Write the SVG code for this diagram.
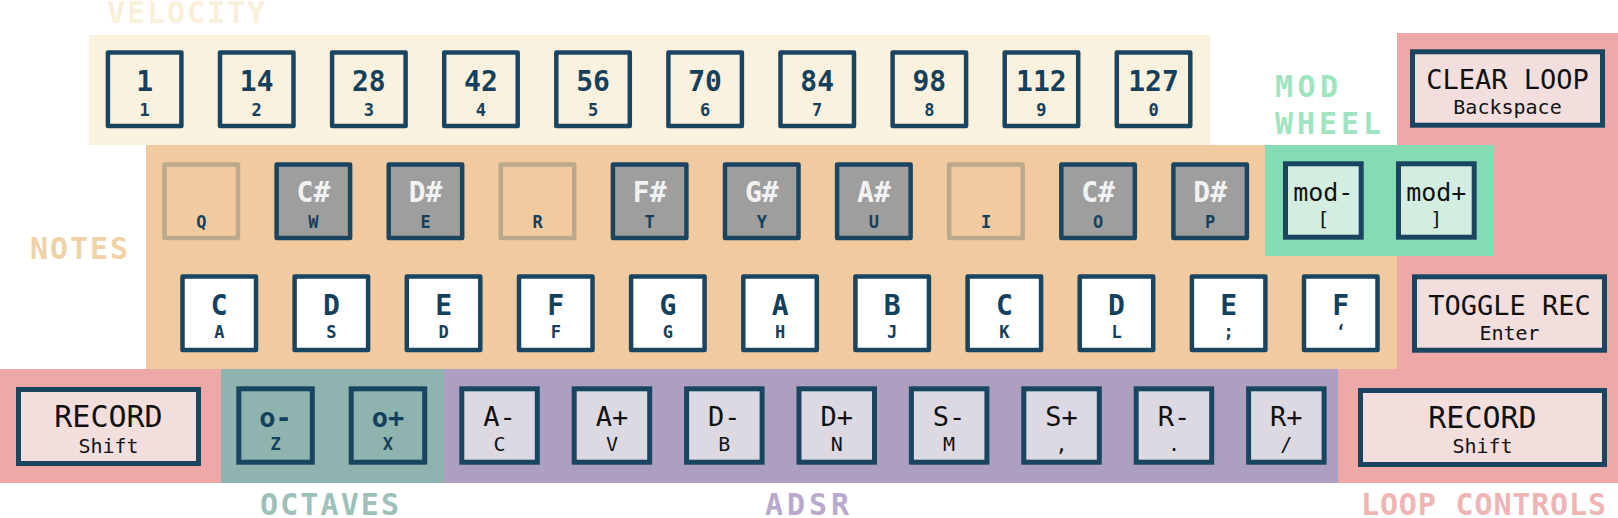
<svg xmlns="http://www.w3.org/2000/svg" width="1618" height="518" viewBox="0 0 1618 518">
<style>
.k{stroke:#1a4560;stroke-width:4.5;stroke-linejoin:round}
.k2{stroke:#1a4560;stroke-width:5}
.vel{fill:#fbf1df}
.sharp{fill:#9e9e9e}
.empty{fill:#f2caa0;stroke:#bba98c;stroke-width:4.5;stroke-linejoin:round}
.white{fill:#ffffff}
.oct{fill:#8fb4b0}
.adsr{fill:#dcd9e3}
.mod{fill:#d3ede0}
.loop{fill:#f3dede}
text{font-family:"DejaVu Sans Mono","Liberation Mono",monospace;text-anchor:middle}
.big{font-size:28px;font-weight:bold;fill:#15405c}
.sm{font-size:17px;font-weight:bold;fill:#15405c}
.bigw{font-size:28px;font-weight:bold;fill:#f2f2f2}
.blk{font-size:27px;fill:#111111}
.blks{font-size:20px;fill:#111111}
.rec{font-size:30px;fill:#111111}
.lbl{font-size:30px;font-weight:bold;text-anchor:start}
</style>

<g id="bands">
<rect x="89" y="35" width="1121" height="110" fill="#fbf1df"/>
<rect x="1397" y="33" width="221" height="450" fill="#eea8a8"/>
<rect x="146" y="145" width="1251" height="224" fill="#f2caa0"/>
<rect x="1265" y="145" width="229" height="111" fill="#86dcb2"/>
<rect x="0" y="369" width="221" height="114" fill="#eea8a8"/>
<rect x="221" y="369" width="223" height="114" fill="#8fb4b0"/>
<rect x="444" y="369" width="894" height="114" fill="#ac9fbf"/>
<rect x="1338" y="369" width="80" height="114" fill="#eea8a8"/>
</g>

<g id="labels">
<text class="lbl" x="107" y="23" fill="#f9efdb" textLength="158" lengthAdjust="spacing">VELOCITY</text>
<text class="lbl" x="30" y="259" fill="#f1d2a6" textLength="98" lengthAdjust="spacing">NOTES</text>
<text class="lbl" x="1275" y="97" fill="#9fe4c0" textLength="63" lengthAdjust="spacing">MOD</text>
<text class="lbl" x="1275" y="134" fill="#9fe4c0" textLength="106" lengthAdjust="spacing">WHEEL</text>
<text class="lbl" x="260" y="515" fill="#9ec0bb" textLength="139" lengthAdjust="spacing">OCTAVES</text>
<text class="lbl" x="765" y="515" fill="#b9aacd" textLength="84" lengthAdjust="spacing">ADSR</text>
<text class="lbl" x="1361" y="515" fill="#efb4b4" textLength="245" lengthAdjust="spacing">LOOP CONTROLS</text>
</g>

<g id="velocity">
<g id="vel-1"><rect class="k vel" x="107.9" y="52.5" width="73.5" height="73.5"/><text class="big" x="144.6" y="90.7">1</text><text class="sm" x="144.6" y="115.7">1</text></g>
<g id="vel-14"><rect class="k vel" x="220" y="52.5" width="73.5" height="73.5"/><text class="big" x="256.7" y="90.7">14</text><text class="sm" x="256.7" y="115.7">2</text></g>
<g id="vel-28"><rect class="k vel" x="332.1" y="52.5" width="73.5" height="73.5"/><text class="big" x="368.8" y="90.7">28</text><text class="sm" x="368.8" y="115.7">3</text></g>
<g id="vel-42"><rect class="k vel" x="444.2" y="52.5" width="73.5" height="73.5"/><text class="big" x="480.9" y="90.7">42</text><text class="sm" x="480.9" y="115.7">4</text></g>
<g id="vel-56"><rect class="k vel" x="556.3" y="52.5" width="73.5" height="73.5"/><text class="big" x="593" y="90.7">56</text><text class="sm" x="593" y="115.7">5</text></g>
<g id="vel-70"><rect class="k vel" x="668.4" y="52.5" width="73.5" height="73.5"/><text class="big" x="705.1" y="90.7">70</text><text class="sm" x="705.1" y="115.7">6</text></g>
<g id="vel-84"><rect class="k vel" x="780.5" y="52.5" width="73.5" height="73.5"/><text class="big" x="817.2" y="90.7">84</text><text class="sm" x="817.2" y="115.7">7</text></g>
<g id="vel-98"><rect class="k vel" x="892.6" y="52.5" width="73.5" height="73.5"/><text class="big" x="929.3" y="90.7">98</text><text class="sm" x="929.3" y="115.7">8</text></g>
<g id="vel-112"><rect class="k vel" x="1004.7" y="52.5" width="73.5" height="73.5"/><text class="big" x="1041.4" y="90.7">112</text><text class="sm" x="1041.4" y="115.7">9</text></g>
<g id="vel-127"><rect class="k vel" x="1116.8" y="52.5" width="73.5" height="73.5"/><text class="big" x="1153.5" y="90.7">127</text><text class="sm" x="1153.5" y="115.7">0</text></g>
</g>

<g id="notes-upper">
<g id="key-q"><rect class="empty" x="164.5" y="164.5" width="73.5" height="73.5"/><text class="sm" x="201.3" y="228.3">Q</text></g>
<g id="key-w"><rect class="k sharp" x="276.6" y="164.5" width="73.5" height="73.5"/><text class="bigw" x="313.4" y="201.7">C#</text><text class="sm" x="313.4" y="228.3">W</text></g>
<g id="key-e"><rect class="k sharp" x="388.7" y="164.5" width="73.5" height="73.5"/><text class="bigw" x="425.5" y="201.7">D#</text><text class="sm" x="425.5" y="228.3">E</text></g>
<g id="key-r"><rect class="empty" x="500.8" y="164.5" width="73.5" height="73.5"/><text class="sm" x="537.6" y="228.3">R</text></g>
<g id="key-t"><rect class="k sharp" x="612.9" y="164.5" width="73.5" height="73.5"/><text class="bigw" x="649.7" y="201.7">F#</text><text class="sm" x="649.7" y="228.3">T</text></g>
<g id="key-y"><rect class="k sharp" x="725" y="164.5" width="73.5" height="73.5"/><text class="bigw" x="761.8" y="201.7">G#</text><text class="sm" x="761.8" y="228.3">Y</text></g>
<g id="key-u"><rect class="k sharp" x="837.1" y="164.5" width="73.5" height="73.5"/><text class="bigw" x="873.9" y="201.7">A#</text><text class="sm" x="873.9" y="228.3">U</text></g>
<g id="key-i"><rect class="empty" x="949.2" y="164.5" width="73.5" height="73.5"/><text class="sm" x="986" y="228.3">I</text></g>
<g id="key-o"><rect class="k sharp" x="1061.3" y="164.5" width="73.5" height="73.5"/><text class="bigw" x="1098.1" y="201.7">C#</text><text class="sm" x="1098.1" y="228.3">O</text></g>
<g id="key-p"><rect class="k sharp" x="1173.4" y="164.5" width="73.5" height="73.5"/><text class="bigw" x="1210.2" y="201.7">D#</text><text class="sm" x="1210.2" y="228.3">P</text></g>
</g>

<g id="notes-lower">
<g id="key-a"><rect class="k white" x="182.5" y="276.5" width="73.5" height="73.5"/><text class="big" x="219.3" y="315">C</text><text class="sm" x="219.3" y="338.3">A</text></g>
<g id="key-s"><rect class="k white" x="294.6" y="276.5" width="73.5" height="73.5"/><text class="big" x="331.4" y="315">D</text><text class="sm" x="331.4" y="338.3">S</text></g>
<g id="key-d"><rect class="k white" x="406.8" y="276.5" width="73.5" height="73.5"/><text class="big" x="443.6" y="315">E</text><text class="sm" x="443.6" y="338.3">D</text></g>
<g id="key-f"><rect class="k white" x="519" y="276.5" width="73.5" height="73.5"/><text class="big" x="555.8" y="315">F</text><text class="sm" x="555.8" y="338.3">F</text></g>
<g id="key-g"><rect class="k white" x="631.1" y="276.5" width="73.5" height="73.5"/><text class="big" x="667.9" y="315">G</text><text class="sm" x="667.9" y="338.3">G</text></g>
<g id="key-h"><rect class="k white" x="743.3" y="276.5" width="73.5" height="73.5"/><text class="big" x="780.1" y="315">A</text><text class="sm" x="780.1" y="338.3">H</text></g>
<g id="key-j"><rect class="k white" x="855.4" y="276.5" width="73.5" height="73.5"/><text class="big" x="892.2" y="315">B</text><text class="sm" x="892.2" y="338.3">J</text></g>
<g id="key-k"><rect class="k white" x="967.6" y="276.5" width="73.5" height="73.5"/><text class="big" x="1004.4" y="315">C</text><text class="sm" x="1004.4" y="338.3">K</text></g>
<g id="key-l"><rect class="k white" x="1079.7" y="276.5" width="73.5" height="73.5"/><text class="big" x="1116.5" y="315">D</text><text class="sm" x="1116.5" y="338.3">L</text></g>
<g id="key-semi"><rect class="k white" x="1191.9" y="276.5" width="73.5" height="73.5"/><text class="big" x="1228.7" y="315">E</text><text class="sm" x="1228.7" y="338.3">;</text></g>
<g id="key-quote"><rect class="k white" x="1304" y="276.5" width="73.5" height="73.5"/><text class="big" x="1340.8" y="315">F</text><text class="sm" x="1340.8" y="338.3">‘</text></g>
</g>

<g id="mod-wheel">
<g id="mod-minus"><rect class="k2 mod" x="1285.5" y="163.8" width="75.7" height="73.4"/><text class="blk" style="font-size:25px" x="1323.3" y="201">mod-</text><text class="blks" x="1323.3" y="226">[</text></g>
<g id="mod-plus"><rect class="k2 mod" x="1398.5" y="163.8" width="75.7" height="73.4"/><text class="blk" style="font-size:25px" x="1436.3" y="201">mod+</text><text class="blks" x="1436.3" y="226">]</text></g>
</g>

<g id="octaves">
<g id="oct-minus"><rect class="k2 oct" x="238.8" y="388.8" width="73.5" height="73.4"/><text class="big" style="font-size:27px" x="275.5" y="426.7">o-</text><text class="sm" x="275.5" y="450">Z</text></g>
<g id="oct-plus"><rect class="k2 oct" x="351.2" y="388.8" width="73.5" height="73.4"/><text class="big" style="font-size:27px" x="387.9" y="426.7">o+</text><text class="sm" x="387.9" y="450">X</text></g>
</g>

<g id="adsr">
<g id="a-minus"><rect class="k2 adsr" x="461.8" y="388.8" width="75.5" height="73.4"/><text class="blk" x="499.5" y="426">A-</text><text class="blks" x="499.5" y="450.7">C</text></g>
<g id="a-plus"><rect class="k2 adsr" x="574.2" y="388.8" width="75.5" height="73.4"/><text class="blk" x="611.9" y="426">A+</text><text class="blks" x="611.9" y="450.7">V</text></g>
<g id="d-minus"><rect class="k2 adsr" x="686.6" y="388.8" width="75.5" height="73.4"/><text class="blk" x="724.3" y="426">D-</text><text class="blks" x="724.3" y="450.7">B</text></g>
<g id="d-plus"><rect class="k2 adsr" x="799" y="388.8" width="75.5" height="73.4"/><text class="blk" x="836.7" y="426">D+</text><text class="blks" x="836.7" y="450.7">N</text></g>
<g id="s-minus"><rect class="k2 adsr" x="911.4" y="388.8" width="75.5" height="73.4"/><text class="blk" x="949.1" y="426">S-</text><text class="blks" x="949.1" y="450.7">M</text></g>
<g id="s-plus"><rect class="k2 adsr" x="1023.8" y="388.8" width="75.5" height="73.4"/><text class="blk" x="1061.5" y="426">S+</text><text class="blks" x="1061.5" y="450.7">,</text></g>
<g id="r-minus"><rect class="k2 adsr" x="1136.2" y="388.8" width="75.5" height="73.4"/><text class="blk" x="1173.9" y="426">R-</text><text class="blks" x="1173.9" y="450.7">.</text></g>
<g id="r-plus"><rect class="k2 adsr" x="1248.6" y="388.8" width="75.5" height="73.4"/><text class="blk" x="1286.3" y="426">R+</text><text class="blks" x="1286.3" y="450.7">/</text></g>
</g>

<g id="loop-controls">
<g id="clear-loop"><rect class="k2 loop" x="1412.5" y="51.8" width="190" height="73.4"/><text class="blk" x="1507.5" y="89.3">CLEAR LOOP</text><text class="blks" x="1507.5" y="114.3">Backspace</text></g>
<g id="toggle-rec"><rect class="k2 loop" x="1414.5" y="276.8" width="190" height="73.4"/><text class="blk" x="1509.5" y="314.7">TOGGLE REC</text><text class="blks" x="1509.5" y="340">Enter</text></g>
<g id="record-right"><rect class="k2 loop" x="1360.5" y="390.5" width="244" height="74"/><text class="rec" x="1482.5" y="427.5">RECORD</text><text class="blks" x="1482.5" y="453">Shift</text></g>
</g>

<g id="record-left"><rect class="k2 loop" x="18.5" y="389.5" width="180" height="74"/><text class="rec" x="108.5" y="427">RECORD</text><text class="blks" x="108.5" y="452.7">Shift</text></g>
</svg>
